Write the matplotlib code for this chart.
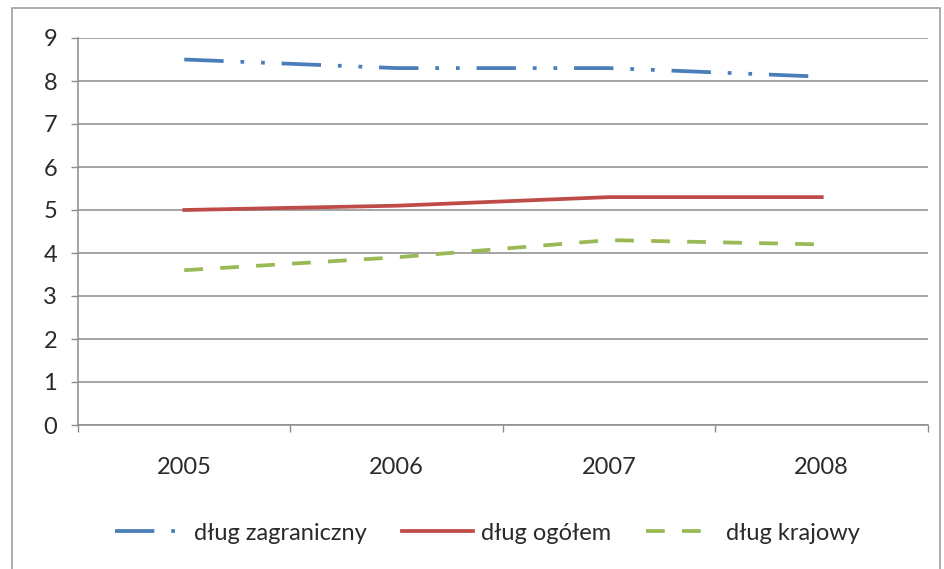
import matplotlib
matplotlib.use("Agg")
import matplotlib.pyplot as plt
from matplotlib.patches import Rectangle

plt.rcParams['font.family'] = ['Lato', 'DejaVu Sans']

# dane
lata = ['2005', '2006', '2007', '2008']
dlug_zagraniczny = [8.5, 8.3, 8.3, 8.1]
dlug_ogolem = [5.0, 5.1, 5.3, 5.3]
dlug_krajowy = [3.6, 3.9, 4.3, 4.2]

fig = plt.figure(figsize=(9.45, 5.69), dpi=100)
ax = fig.add_axes([78 / 945, 1 - 425 / 569, 850 / 945, 387 / 569])

# ramka wykresu
fig.patches.append(Rectangle((12 / 945, -0.02), 928 / 945, 1 - 8 / 569 + 0.02,
                             transform=fig.transFigure, fill=False,
                             edgecolor='#a0a0a0', linewidth=1.2))

x = range(len(lata))
ax.plot(x, dlug_zagraniczny, color='#4A7EBB', linewidth=2.7,
        dashes=(10.5, 4.5, 1, 4.5, 1, 4.5), label='dług zagraniczny')
ax.plot(x, dlug_ogolem, color='#BE4B48', linewidth=2.7, label='dług ogółem')
ax.plot(x, dlug_krajowy, color='#98B954', linewidth=2.7,
        dashes=(5, 4.6), label='dług krajowy')

ax.set_xlim(-0.5, 3.5)
ax.set_ylim(0, 9)
ax.set_yticks(range(0, 10))
ax.yaxis.grid(True, color='#8c8c8c', linewidth=1.1)
ax.set_axisbelow(True)

ax.set_xticks([i - 0.5 for i in range(len(lata) + 1)])
ax.set_xticklabels([])
ax.set_xticks(list(x), minor=True)
ax.set_xticklabels(lata, minor=True)
ax.tick_params(axis='x', which='minor', length=0, pad=23, labelsize=17, colors='#2a2a2a')
ax.tick_params(axis='x', which='major', length=5, width=1, color='#8c8c8c')
ax.tick_params(axis='y', length=5, width=1, color='#8c8c8c', labelsize=17,
               labelcolor='#2a2a2a', pad=10)

for s in ['top', 'right']:
    ax.spines[s].set_visible(False)
for s in ['left', 'bottom']:
    ax.spines[s].set_color('#8c8c8c')
    ax.spines[s].set_linewidth(1.1)

ax.legend(loc='center', bbox_to_anchor=(487 / 945, 1 - 533 / 569),
          bbox_transform=fig.transFigure, ncol=3, frameon=False,
          fontsize=17, handlelength=3.0, columnspacing=1.5, handletextpad=0.35,
          labelcolor='#2a2a2a')

fig.savefig('out.png', dpi=100)
